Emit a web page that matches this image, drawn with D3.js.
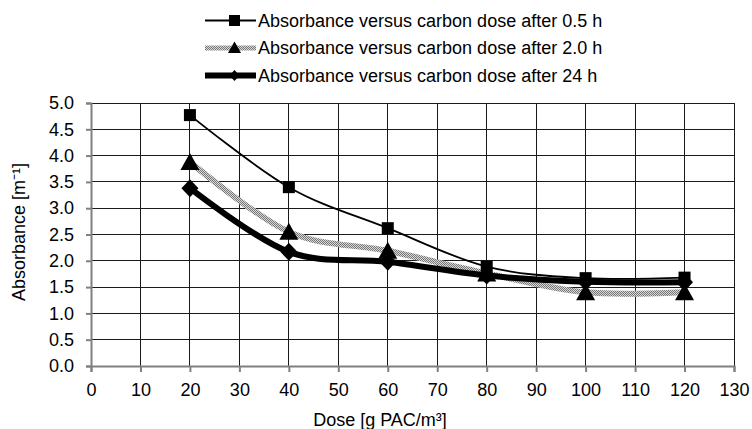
<!DOCTYPE html>
<html><head><meta charset="utf-8">
<script src="https://cdn.jsdelivr.net/npm/d3@7"></script>
<style>body{margin:0;background:#fff}svg{display:block}text{font-family:"Liberation Sans",Arial,sans-serif;fill:#000}</style>
</head><body><svg id="c" width="752" height="429"></svg>
<script>
const doses = [20, 40, 60, 80, 100, 120];
const abs05 = [4.77, 3.40, 2.62, 1.89, 1.67, 1.68];
const abs2 = [3.88, 2.55, 2.19, 1.76, 1.40, 1.40];
const abs24 = [3.38, 2.17, 1.98, 1.72, 1.60, 1.59];
const seriesNames = ["Absorbance versus carbon dose after 0.5 h","Absorbance versus carbon dose after 2.0 h","Absorbance versus carbon dose after 24 h"];
const xTicks = d3.range(0, 131, 10);
const yTicks = d3.range(0, 5.01, 0.5);
const FS = 18;

const svg = d3.select("#c");
const defs = svg.append("defs");
const pat = defs.append("pattern").attr("id","hatch").attr("patternUnits","userSpaceOnUse").attr("width",2).attr("height",2);
pat.append("rect").attr("width",2).attr("height",2).attr("fill","#d8d8d8");
pat.append("rect").attr("width",1).attr("height",1).attr("fill","#777");
pat.append("rect").attr("x",1).attr("y",1).attr("width",1).attr("height",1).attr("fill","#777");

const L=91,R=734,T=103,B=366;
const x = d3.scaleLinear().domain([0,130]).range([L,R]);
const y = d3.scaleLinear().domain([0,5]).range([B,T]);

// grid
const g = svg.append("g");
g.selectAll(".vg").data(xTicks.slice(1)).join("line").attr("x1",d=>x(d)).attr("x2",d=>x(d)).attr("y1",T).attr("y2",B).attr("stroke","#1a1a1a").attr("stroke-width",1).attr("shape-rendering","crispEdges");
g.selectAll(".hg").data(yTicks.slice(1)).join("line").attr("x1",L).attr("x2",R).attr("y1",d=>y(d)).attr("y2",d=>y(d)).attr("stroke","#1a1a1a").attr("stroke-width",1).attr("shape-rendering","crispEdges");

// axes
const ya = svg.append("g").attr("transform",`translate(${L},0)`).call(d3.axisLeft(y).tickValues(yTicks).tickFormat(d3.format(".1f")).tickSize(5).tickPadding(12));
const xa = svg.append("g").attr("transform",`translate(0,${B})`).call(d3.axisBottom(x).tickValues(xTicks).tickSize(6).tickPadding(11));
[ya,xa].forEach(a=>{a.select(".domain").attr("stroke","#808080").attr("stroke-width",2);a.selectAll(".tick line").attr("stroke","#808080").attr("stroke-width",2);a.selectAll("text").attr("font-size",FS).attr("font-family","Liberation Sans, Arial, sans-serif").attr("fill","#000");});

// axis titles
svg.append("text").attr("x",380).attr("y",426).attr("text-anchor","middle").attr("font-size",FS).text("Dose [g PAC/m³]");
svg.append("text").attr("transform",`translate(25,232) rotate(-90)`).attr("text-anchor","middle").attr("font-size",FS).text("Absorbance [m⁻¹]");

const line = d3.line().x(d=>x(d[0])).y(d=>y(d[1])).curve(d3.curveCatmullRom.alpha(0));
const dat = s=>doses.map((d,i)=>[d,s[i]]);

const styles=[
  {data:abs05,stroke:"#000",w:1.8,lw:2,marker:"square"},
  {data:abs2,stroke:"url(#hatch)",w:6,lw:5,marker:"triangle"},
  {data:abs24,stroke:"#000",w:6,lw:6,marker:"diamond"}
];
function drawMarker(sel,type,cx,cy){
  if(type==="square") sel.append("rect").attr("x",cx-6).attr("y",cy-6).attr("width",12).attr("height",12).attr("fill","#000");
  else if(type==="triangle") sel.append("path").attr("d",`M${cx},${cy-9}L${cx+9.5},${cy+8}L${cx-9.5},${cy+8}Z`).attr("fill","#000");
  else sel.append("path").attr("d",`M${cx},${cy-9}L${cx+8.5},${cy}L${cx},${cy+9}L${cx-8.5},${cy}Z`).attr("fill","#000");
}
styles.forEach(s=>{
  svg.append("path").attr("d",line(dat(s.data))).attr("fill","none").attr("stroke",s.stroke).attr("stroke-width",s.w).attr("stroke-linejoin","round").attr("stroke-linecap","round");
});
styles.forEach(s=>{
  const mg=svg.append("g");
  dat(s.data).forEach(p=>drawMarker(mg,s.marker,x(p[0]),y(p[1])));
});

// legend
const ly=[20.5,48,75.5];
styles.forEach((s,i)=>{
  svg.append("line").attr("x1",205).attr("x2",256).attr("y1",ly[i]).attr("y2",ly[i]).attr("stroke",s.stroke).attr("stroke-width",s.lw);
  const mg=svg.append("g");
  const c=234.5;
  if(s.marker==="square") mg.append("rect").attr("x",c-5.5).attr("y",ly[i]-5.5).attr("width",11).attr("height",11);
  else if(s.marker==="triangle") mg.append("path").attr("d",`M${c},${ly[i]-6.5}L${c+6.5},${ly[i]+5}L${c-6.5},${ly[i]+5}Z`);
  else mg.append("path").attr("d",`M${c},${ly[i]-5.5}L${c+5},${ly[i]}L${c},${ly[i]+5.5}L${c-5},${ly[i]}Z`);
  svg.append("text").attr("x",258).attr("y",ly[i]+6.3).attr("font-size",FS).text(seriesNames[i]);
});
</script></body></html>
